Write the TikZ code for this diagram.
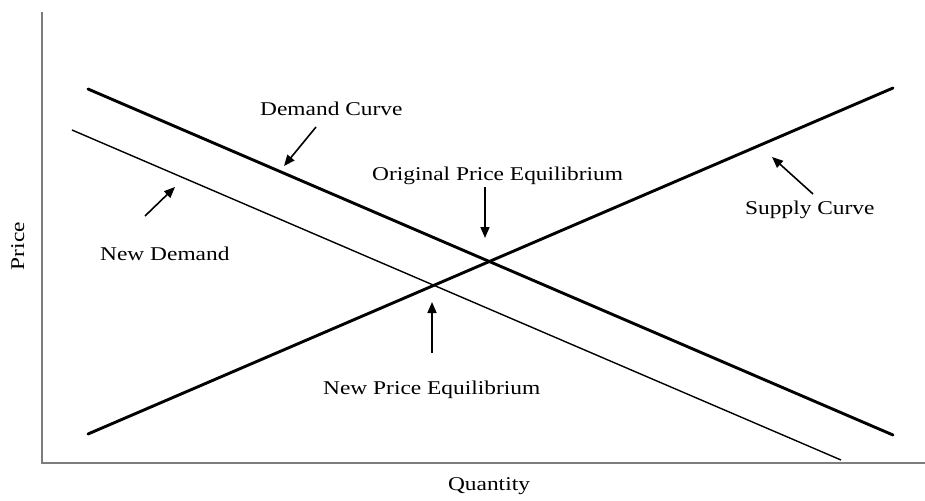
\documentclass[tikz,border=0pt]{standalone}
\usepackage{fontspec}
\setmainfont{Liberation Serif}[FakeStretch=1.2]
\usetikzlibrary{arrows.meta}
\tikzset{
  curvebold/.style={line width=2.9pt,black},
  curvethin/.style={line width=1.4pt,black},
  axisline/.style={line width=1.6pt,draw={rgb,255:red,125;green,125;blue,125}},
  pointer/.style={line width=1.6pt,-{Triangle[length=11pt,width=9pt]}},
  lbl/.style={font=\fontsize{19.5}{22}\selectfont,inner sep=0pt,anchor=base west}
}
\begin{document}
\begin{tikzpicture}[x=1pt,y=-1pt]
\useasboundingbox (0,0) rectangle (925,500);
% axes
\coordinate (ytop) at (42,12);
\coordinate (orig) at (42,463);
\coordinate (xend) at (925,463);
\draw[axisline] (ytop) -- (orig) -- (xend);
% curves
\coordinate (d1) at (88,89);
\coordinate (d2) at (893,435);
\coordinate (s1) at (88,434);
\coordinate (s2) at (893,88);
\coordinate (n1) at (72,130);
\coordinate (n2) at (841,460);
\draw[curvebold,line cap=round] (d1) -- (d2);
\draw[curvebold,line cap=round] (s1) -- (s2);
\draw[curvethin] (n1) -- (n2);
% labels
\node[lbl] (dc) at (260,115) {Demand Curve};
\node[lbl] (ope) at (372,180) {Original Price Equilibrium};
\node[lbl] (nd) at (100,260) {New Demand};
\node[lbl] (sc) at (745,214) {Supply Curve};
\node[lbl] (npe) at (323,394) {New Price Equilibrium};
\node[lbl,anchor=base] (qty) at (489,490) {Quantity};
\node[lbl,anchor=base,rotate=90] (price) at (24,246) {Price};
% pointers
\coordinate (a1s) at (316,127); \coordinate (a1e) at (284,166);
\coordinate (a2s) at (485,187); \coordinate (a2e) at (485,238);
\coordinate (a3s) at (145,216); \coordinate (a3e) at (175,187);
\coordinate (a4s) at (813,194); \coordinate (a4e) at (772,157);
\coordinate (a5s) at (432,353); \coordinate (a5e) at (432,302);
\draw[pointer] (a1s) -- (a1e);
\draw[pointer] (a2s) -- (a2e);
\draw[pointer] (a3s) -- (a3e);
\draw[pointer] (a4s) -- (a4e);
\draw[pointer] (a5s) -- (a5e);
\end{tikzpicture}
\end{document}
